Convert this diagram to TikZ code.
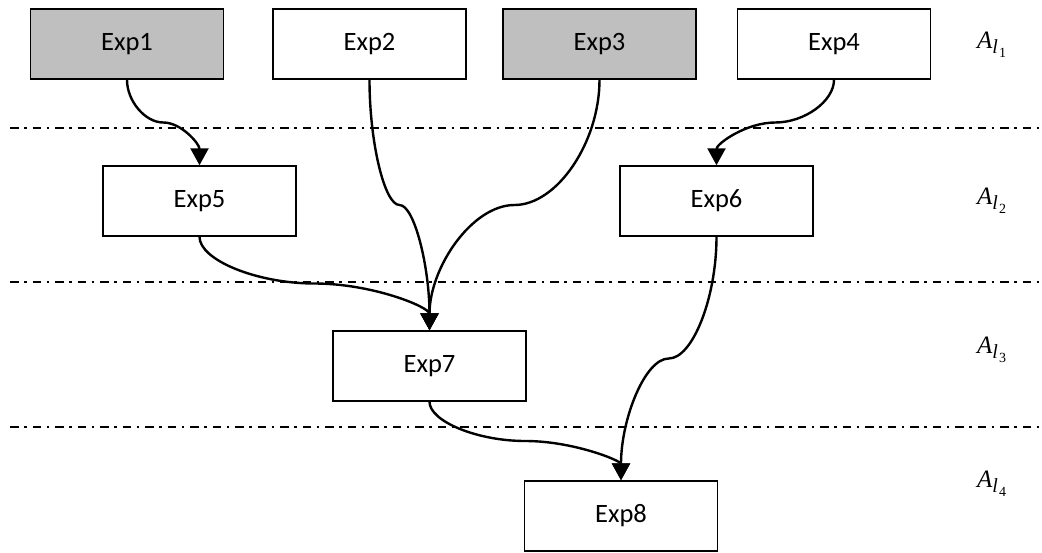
\documentclass[tikz,border=0pt]{standalone}
\usepackage{fontspec}
\setmainfont{Carlito}
\newfontfamily\labfont{Liberation Serif}
\usetikzlibrary{arrows.meta,calc}
\definecolor{boxgray}{RGB}{191,191,191}
\newcommand\levlab[1]{{\labfont\itshape\fontsize{25}{29}\selectfont A}\raisebox{-5.5pt}{\labfont\itshape\fontsize{20}{23}\selectfont l\kern1pt\raisebox{-3.5pt}{\upshape\fontsize{14}{16}\selectfont #1}}}
\tikzset{
  expbox/.style={draw=black, line width=1.5pt, fill=white, minimum width=193pt, minimum height=70pt, inner sep=0pt, font=\fontsize{26.5}{31}\selectfont},
  graybox/.style={expbox, fill=boxgray},
  levelline/.style={line width=1.4pt, dash pattern=on 8.5pt off 5.5pt on 2.5pt off 6pt},
  levellabel/.style={anchor=base west, inner sep=0pt},
  conn/.style={line width=2.4pt, -{Triangle[length=17pt,width=18pt]},
    to path={let \p1=(\tikztostart), \p2=(\tikztotarget) in
      .. controls (\x1,{0.75*\y1+0.25*\y2}) and ({0.75*\x1+0.25*\x2},{0.5*\y1+0.5*\y2})
      .. ({0.5*\x1+0.5*\x2},{0.5*\y1+0.5*\y2})
      .. controls ({0.25*\x1+0.75*\x2},{0.5*\y1+0.5*\y2}) and (\x2,{0.25*\y1+0.75*\y2})
      .. (\tikztotarget)}}
}
\begin{document}
\begin{tikzpicture}[x=1pt,y=-1pt]
\useasboundingbox (0,0) rectangle (1042,552);
% level separators
\coordinate (l1a) at (10,128); \coordinate (l1b) at (1042,128);
\coordinate (l2a) at (10,282); \coordinate (l2b) at (1042,282);
\coordinate (l3a) at (10,427); \coordinate (l3b) at (1042,427);
\draw[levelline] (l1a) -- (l1b);
\draw[levelline] (l2a) -- (l2b);
\draw[levelline] (l3a) -- (l3b);
% boxes
\node[graybox] (e1) at (127,44) {Exp1};
\node[expbox]  (e2) at (369.5,44) {Exp2};
\node[graybox] (e3) at (599.5,44) {Exp3};
\node[expbox]  (e4) at (834,44) {Exp4};
\node[expbox]  (e5) at (199.5,201) {Exp5};
\node[expbox]  (e6) at (716.5,201) {Exp6};
\node[expbox]  (e7) at (429.5,366) {Exp7};
\node[expbox]  (e8) at (621,516) {Exp8};
% level labels
\node[levellabel] (a1) at (977,48) {\levlab{1}};
\node[levellabel] (a2) at (977,204) {\levlab{2}};
\node[levellabel] (a3) at (977,353) {\levlab{3}};
\node[levellabel] (a4) at (977,487) {\levlab{4}};
% connectors
\draw[conn] (e1.south) to (e5.north);
\draw[conn] (e4.south) to (e6.north);
\draw[conn] (e2.south) to (e7.north);
\draw[conn] (e3.south) to (e7.north);
\draw[conn] (e5.south) to (e7.north);
\draw[conn] (e6.south) to (e8.north);
\draw[conn] (e7.south) to (e8.north);
\end{tikzpicture}
\end{document}
